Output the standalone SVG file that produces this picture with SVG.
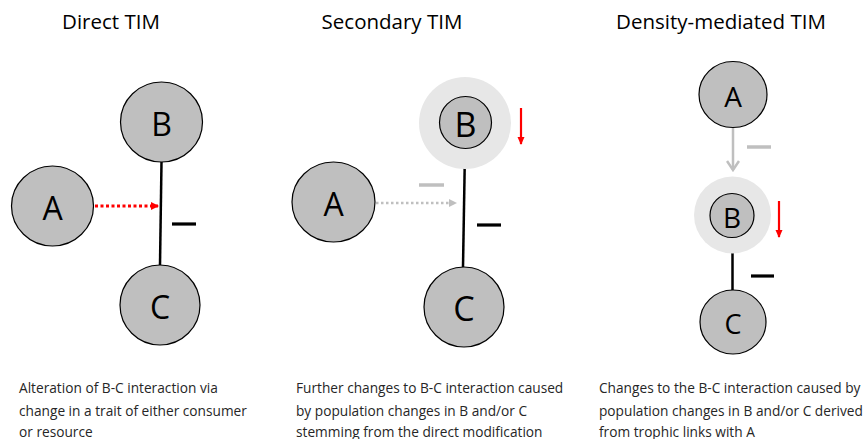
<svg xmlns="http://www.w3.org/2000/svg" width="866" height="439" viewBox="0 0 866 439">
<style>
.title{font-family:"Open Sans","Liberation Sans",sans-serif;font-size:20.5px;fill:#000;text-anchor:middle}
.cap{font-family:"Open Sans","Liberation Sans",sans-serif;font-size:13.7px;fill:#262626}
.lbl{font-family:"Open Sans","Liberation Sans",sans-serif;fill:#000;text-anchor:middle;dominant-baseline:central}
.node{fill:#BFBFBF;stroke:#000;stroke-width:1.2}
.halo{fill:#E7E7E7}
.link{stroke:#000;stroke-width:2.5;fill:none}
.minus{stroke:#000;stroke-width:3.2}
.gminus{stroke:#BFBFBF;stroke-width:3.5}
</style>
<defs>
<marker id="redHead" markerWidth="8" markerHeight="8" refX="7" refY="4" orient="auto" markerUnits="userSpaceOnUse">
<path d="M0,0 L8,4 L0,8 Z" fill="#FF0000"/>
</marker>
<marker id="grayHead" markerWidth="8" markerHeight="8" refX="7" refY="4" orient="auto" markerUnits="userSpaceOnUse">
<path d="M0,0 L8,4 L0,8 Z" fill="#BFBFBF"/>
</marker>
<marker id="redSmall" markerWidth="8" markerHeight="8" refX="7" refY="4" orient="auto" markerUnits="userSpaceOnUse">
<path d="M0,0.5 L8,4 L0,7.5 Z" fill="#FF0000"/>
</marker>
<marker id="grayOpen" markerWidth="12" markerHeight="14" refX="10" refY="7" orient="auto" markerUnits="userSpaceOnUse">
<path d="M1,1 L10,7 L1,13" fill="none" stroke="#BFBFBF" stroke-width="2.5"/>
</marker>
</defs>

<text class="title" x="111" y="29">Direct TIM</text>
<text class="title" x="392" y="29">Secondary TIM</text>
<text class="title" x="721" y="29">Density-mediated TIM</text>

<g id="connectors">
<line class="link" x1="161.5" y1="162" x2="160" y2="265"/>
<line x1="95" y1="206" x2="158" y2="206" stroke="#FF0000" stroke-width="3" stroke-dasharray="3,2.5" marker-end="url(#redHead)"/>
<line class="minus" x1="172" y1="224" x2="196" y2="224"/>

<line class="link" x1="465" y1="148" x2="463" y2="267"/>
<line x1="376" y1="203" x2="456" y2="203" stroke="#BFBFBF" stroke-width="2.5" stroke-dasharray="2.5,2.5" marker-end="url(#grayHead)"/>
<line class="gminus" x1="419" y1="185" x2="444" y2="185"/>
<line class="minus" x1="477" y1="225" x2="501" y2="225"/>
<line x1="521" y1="108" x2="521" y2="144" stroke="#FF0000" stroke-width="2.2" marker-end="url(#redSmall)"/>

<line x1="733" y1="128" x2="733" y2="170" stroke="#BFBFBF" stroke-width="2.5" marker-end="url(#grayOpen)"/>
<line class="gminus" x1="747" y1="147" x2="771" y2="147"/>
<line class="link" x1="732.5" y1="253" x2="732.5" y2="290"/>
<line class="minus" x1="751" y1="276" x2="774" y2="276"/>
<line x1="779" y1="201" x2="779" y2="237" stroke="#FF0000" stroke-width="2.2" marker-end="url(#redSmall)"/>
</g>

<g id="p1-A"><ellipse class="node" cx="52.5" cy="206" rx="41" ry="40"/><text class="lbl" x="52.5" y="207" font-size="32">A</text></g>
<g id="p1-B"><ellipse class="node" cx="161.5" cy="122" rx="41" ry="40"/><text class="lbl" x="161.5" y="123" font-size="32">B</text></g>
<g id="p1-C"><ellipse class="node" cx="160" cy="305" rx="40" ry="40"/><text class="lbl" x="160" y="306" font-size="32">C</text></g>

<g id="p2-A"><ellipse class="node" cx="333.5" cy="202" rx="41.5" ry="40"/><text class="lbl" x="333.5" y="203" font-size="32">A</text></g>
<g id="p2-B"><circle class="halo" cx="465" cy="123" r="46"/><circle class="node" cx="465.5" cy="122.5" r="26"/><text class="lbl" x="465.5" y="124" font-size="34">B</text></g>
<g id="p2-C"><ellipse class="node" cx="464" cy="307" rx="40" ry="40"/><text class="lbl" x="464" y="308" font-size="34">C</text></g>

<g id="p3-A"><ellipse class="node" cx="733" cy="94.5" rx="34" ry="33"/><text class="lbl" x="733" y="95.5" font-size="28">A</text></g>
<g id="p3-B"><circle class="halo" cx="732.5" cy="215" r="38.5"/><circle class="node" cx="732" cy="215.5" r="22"/><text class="lbl" x="732" y="216.5" font-size="28">B</text></g>
<g id="p3-C"><ellipse class="node" cx="733" cy="322" rx="33" ry="32"/><text class="lbl" x="733" y="323" font-size="27">C</text></g>

<text class="cap" x="19" y="392.5">Alteration of B-C interaction via</text>
<text class="cap" x="19" y="415.5">change in a trait of either consumer</text>
<text class="cap" x="19" y="436.5">or resource</text>
<text class="cap" x="296" y="392.5">Further changes to B-C interaction caused</text>
<text class="cap" x="296" y="415.5">by population changes in B and/or C</text>
<text class="cap" x="296" y="436.5">stemming from the direct modification</text>
<text class="cap" x="599" y="392.5">Changes to the B-C interaction caused by</text>
<text class="cap" x="599" y="415.5">population changes in B and/or C derived</text>
<text class="cap" x="599" y="436.5">from trophic links with A</text>
</svg>
